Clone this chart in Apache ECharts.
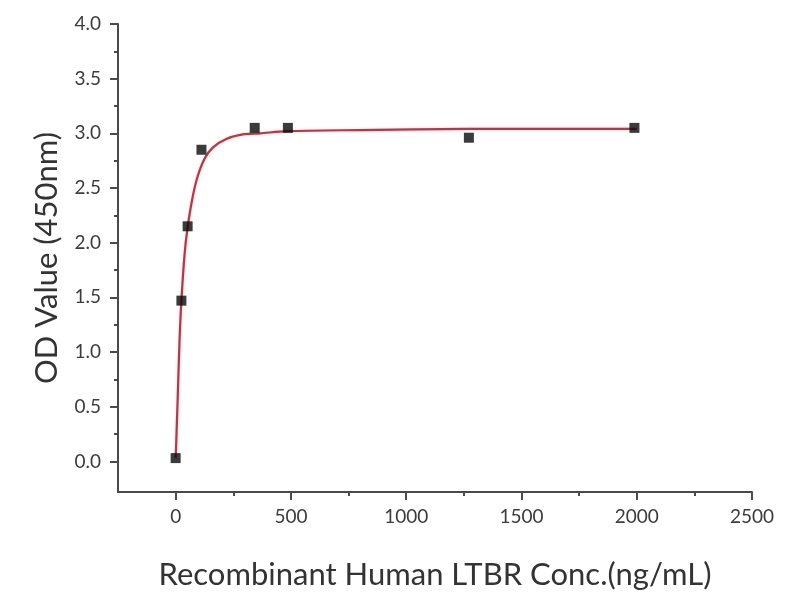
<!DOCTYPE html>
<html>
<head>
<meta charset="utf-8">
<script src="https://cdn.jsdelivr.net/npm/echarts@6/dist/echarts.min.js"></script>
<style>html,body{margin:0;padding:0;background:#fff;}#c{width:800px;height:600px;}</style>
</head>
<body>
<div id="c"></div>
<script>
// Measured points
const concX = [0, 25, 52, 112, 343, 487, 1272, 1990];
const odY = [0.03, 1.47, 2.15, 2.85, 3.05, 3.05, 2.96, 3.05];
// Fitted curve
const curveX = [0, 3, 10, 17, 25, 39, 52, 74, 96, 126, 161, 222, 291, 365, 483, 800, 1272, 2000];
const curveY = [0.03, 0.2, 0.65, 1.11, 1.47, 1.9, 2.14, 2.42, 2.61, 2.77, 2.87, 2.95, 2.99, 3.0, 3.02, 3.03, 3.04, 3.04];
// Tick values
const xMajor = [0, 500, 1000, 1500, 2000, 2500];
const xMinor = [250, 750, 1250, 1750, 2250];
const yMajor = [0, 0.5, 1, 1.5, 2, 2.5, 3, 3.5, 4];
const yMinor = [0.25, 0.75, 1.25, 1.75, 2.25, 2.75, 3.25, 3.75];

const font = 'Lato, "Open Sans", sans-serif';
const axisCol = '#4a4a4a';
const labelStyle = {fontFamily: font, fontSize: 19, color: '#3c3c3c'};
const chart = echarts.init(document.getElementById('c'), null, {renderer: 'canvas'});
const baseX = {type: 'value', min: -250, max: 2500, splitLine: {show: false}, position: 'bottom'};
const baseY = {type: 'value', min: -0.28, max: 4, splitLine: {show: false}, position: 'left'};
chart.setOption({
  animation: false,
  backgroundColor: '#fff',
  textStyle: {fontFamily: font},
  grid: {left: 118, right: 48, top: 24, bottom: 108, containLabel: false},
  xAxis: [
    Object.assign({}, baseX, {
      name: 'Recombinant Human LTBR Conc.(ng/mL)',
      nameLocation: 'middle', nameGap: 67,
      nameTextStyle: {fontFamily: font, fontSize: 31, color: '#333'},
      axisLine: {show: true, onZero: false, lineStyle: {color: axisCol, width: 2}},
      axisTick: {show: true, customValues: xMajor, length: 8, inside: false, lineStyle: {color: axisCol, width: 2}},
      axisLabel: Object.assign({customValues: xMajor, margin: 15, formatter: v => String(v)}, labelStyle)
    }),
    Object.assign({}, baseX, {
      axisLine: {show: false, onZero: false},
      axisTick: {show: true, customValues: xMinor, length: 4, lineStyle: {color: axisCol, width: 2}},
      axisLabel: {show: false}
    })
  ],
  yAxis: [
    Object.assign({}, baseY, {
      name: 'OD Value (450nm)',
      nameLocation: 'middle', nameGap: 56, nameRotate: 90,
      nameTextStyle: {fontFamily: font, fontSize: 31, color: '#333'},
      axisLine: {show: true, onZero: false, lineStyle: {color: axisCol, width: 2}},
      axisTick: {show: true, customValues: yMajor, length: 8, lineStyle: {color: axisCol, width: 2}},
      axisLabel: Object.assign({customValues: yMajor, margin: 17, formatter: v => v.toFixed(1)}, labelStyle)
    }),
    Object.assign({}, baseY, {
      axisLine: {show: false, onZero: false},
      axisTick: {show: true, customValues: yMinor, length: 4, lineStyle: {color: axisCol, width: 2}},
      axisLabel: {show: false}
    })
  ],
  series: [
    {
      type: 'line', name: 'fit',
      data: curveX.map((x, i) => [x, curveY[i]]),
      smooth: 0.3, showSymbol: false, symbol: 'none',
      lineStyle: {color: '#a53f4e', width: 2.2, shadowColor: 'rgba(230,130,140,0.5)', shadowBlur: 3},
      z: 2
    },
    {
      type: 'scatter', name: 'data',
      data: concX.map((x, i) => [x, odY[i]]),
      symbol: 'rect', symbolSize: 10,
      itemStyle: {color: '#0a0a0a'},
      z: 3
    }
  ]
});
</script>
</body>
</html>
